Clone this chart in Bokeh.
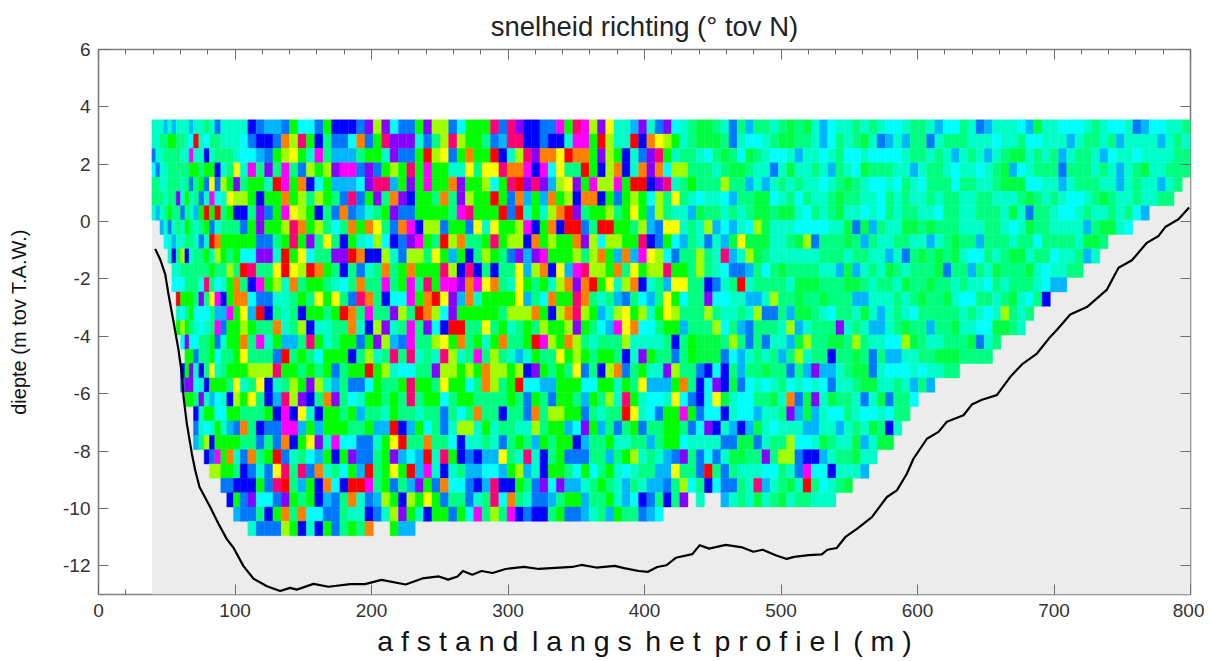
import colorsys
import numpy as np
from bokeh.embed import file_html
from bokeh.resources import INLINE
from bokeh.plotting import figure
from bokeh.models import ColumnDataSource, LinearColorMapper, LinearAxis, FixedTicker, Range1d

TITLE = "snelheid richting (° tov N)"
XLABEL = "a f s t a n d \u2009l a n g s \u2009h e t \u2009p r o f i e l \u2009( m )"
YLABEL = "diepte (m tov T.A.W.)"
x_ticks = [0, 100, 200, 300, 400, 500, 600, 700, 800]
y_ticks = [6, 4, 2, 0, -2, -4, -6, -8, -10, -12]
top_minor = [20, 40, 60, 80, 120, 140, 160, 180, 220, 240, 260, 280, 320, 340, 360, 380, 420, 440, 460, 480, 520, 540, 560, 580, 620, 640, 660, 680, 720, 740, 760, 780]
bottom_minor = [20]

# direction class -> degrees relative to north
hue = dict(r=0, o=30, y=60, l=82, g=120, h=136, s=150, t=167, c=180, a=197, d=212, b=240, v=272, m=300, k=332)

# narrow column edges near the left bank (m); beyond that roughly 6 m spacing
left_edges = [39.1, 42, 45, 47.9, 50.8, 53.7, 56.9, 60.1, 63.3, 66.4, 69.6, 73.5, 77.4, 81.3, 85.2, 89.6, 94, 98.9, 103.8]
panel_edges = [109.4, 293.3, 546.3, 800]
panel_cols = [30, 42, 42]
row_top = 3.55
row_step = 0.5
bed_x = [41.5, 45.2, 48.9, 51.3, 55, 58.6, 61, 62.3, 64.7, 68.4, 70.8, 74, 81.8, 87.9, 94, 98.9, 106.2, 113.6, 123.4, 133.1, 140.4, 145.3, 157.5, 168.5, 184.4, 195.2, 207.4, 225, 237.2, 249.4, 256.2, 263, 267, 273.8, 280.6, 288.7, 298.2, 311.8, 322.6, 347, 353.8, 364.6, 378.2, 385, 395.8, 402.6, 409.3, 416.1, 422.9, 435.1, 440.5, 447.3, 459.5, 471.7, 479.8, 486.6, 496.1, 504.2, 509.6, 520.4, 529.9, 534, 540.8, 547.5, 555.6, 566.6, 577.6, 584.9, 592.2, 597.1, 606.9, 615.4, 621.5, 633.7, 639.8, 647.2, 658.1, 668, 676.5, 687.5, 697.2, 702.2, 711.9, 724.1, 738.8, 747.3, 757.1, 768, 776.6, 781.5, 791.2, 799]
bed_y = [-0.95, -1.32, -1.84, -2.54, -3.5, -4.47, -5.3, -6.11, -7.04, -8.09, -8.66, -9.25, -9.95, -10.53, -11.07, -11.37, -12.01, -12.45, -12.71, -12.88, -12.77, -12.83, -12.63, -12.73, -12.64, -12.64, -12.49, -12.65, -12.44, -12.37, -12.48, -12.37, -12.18, -12.31, -12.18, -12.25, -12.11, -12.04, -12.11, -12.04, -11.97, -12.06, -12.0, -12.08, -12.18, -12.21, -12.04, -11.98, -11.72, -11.59, -11.28, -11.4, -11.27, -11.36, -11.51, -11.44, -11.63, -11.76, -11.69, -11.63, -11.6, -11.44, -11.38, -10.98, -10.71, -10.3, -9.6, -9.37, -8.79, -8.26, -7.57, -7.33, -6.98, -6.75, -6.38, -6.21, -6.05, -5.41, -4.98, -4.6, -4.02, -3.77, -3.24, -2.98, -2.37, -1.61, -1.35, -0.74, -0.5, -0.19, 0.08, 0.49]

# top row first; left bank | first panel | second panel | third panel; "." = no measurement
rows = [
"tttatatttattstdtttt | b d a a d g c c d g b b b d v l v c d d g v l l d c g g g k | d k v b b d d m g k m l v y t t a v t d v c t s g g s t d s a s s t s g s g t a c t | t s t s t c c t s s t a c c s t d a t t t c a g t t c c c t s t c c t d a c c t t s",
"ttssggsstcrtcsstttc | d b b d o l k g b s d d c o d g k v v v t d s l k l g g s d | a k k b b d b b t m m g r l t t r b o y l g t s g g g s d t c c t s g g s s t a c s | t s g t d a t a s s d t s s s t t t c t t s c c t t t a t s s t s a t t t t a t s t",
"dttssssttmttbtssstc | c a d g l y g t m s a a a s g g t v d d g r l y d g o g g r | b t l k v o o y r o o g v l g b t d v k g t s s t c s g s c g s t c c t a t t c t s | c c t c c c c t s s t s t a t s t a t s g g t s t s a t s s t a c t t c t t t t s s",
"cdttsssssggsggbtsyt | m s v s m s d l g l v m m d v d g l g k g m g g t t y s y y | k o o m b m c y s s r g b l o b t o v o c l l s s s t s g g s t t d t g t t s t a s | t c g s s s t t a t s s t c t t c t s g a c t s s s d s s s t s t a t s g t t s s s",
"ssttssstsdsgdydlgvs | g g t r m g o b c g a a a c v k k a g v g m g g o v g g l c | g k r v k v a l y v g m l l m g r r b v k t s g s s s l s s a t a t s t s t t c t s | g s t c c t c s t c s s s c s s t t s g g g c c t t a t s s s t t a t s t t a t s",
"ssstssvtgtsdtmctyll | g b g g o g l s l g s d k d g v s o v b g g s o s v l g g r | g d o a g a o g l b o o b g d g l g c l s y s t c t t c a s s g g c t s c s t t s g | s s t t c s t s t t s t s s t t s s t t t s g s t s t c c t s g s t t s t t s s",
"tatsgssdstagrgrsgbb | s v d g m y l g b s d o d a t s g v d d g g g g s m k g g g | r d r t g t l o r v s g g l s g y g a l s t t a g s s t s t s g g s g g t c s t s g | t t c t c s t s s t t c s s t t s s s t g t d s s t c c t s t t s t s c a",
"atdtstgstsgdtsssd | g v g g l k o g l s c s o g o y s d o m b l l d g g d y t y | g g l m b g o b r r d s r r g g s l a d y y t s t l a c a t c l g t t t c c c c t t | g d g a s t t g g s g s s s t t t s s t c t g s s t t t t a s g g t c",
"ctattsstdtrogggg | g d d s g k g v s y s b g t c l c b d v m g s r l o s s g k | g l l b o g l g g o v l c l l g g k b d g c a s t d t a g y g g g t t s g l d s s s | g s a s t t s s t t a t s g s s a s s s t s s c s s s s t g g s",
"tbslbtssgtlgsgc | c v v t r g y c s s v v r o b b l t d l l s y g a g b s l g | s d v a v m g g g l s l o g a o a m y l c d s s l s t k a t l g s t t t t t t s s s | t s s t t a t d s g s g s g t c c s t s g g t s s c t t s a t",
"ttssssssgsslsr | k s s y r y l r o g s b s d t s o s g o g g g k l b k b s b | s s y a l o b y a m k l l g o s y g l l k g g s l s t c d d a s c s g s s s s t t a | g a t s t g s t s s s g d s s a s t g s s s g t c t t s s",
"cccssscksctgos | b m g l t o s g g s t c s o s s m s g m s k g m m v o m y o | s t y g s g t l o v o r g y t l o b t s a y y s s b d t s r t s s s s t g g g s s s | g g s t s s t g s s g s s t s t t c s t s s s t c a a",
"rgggsvsymbgoo | c d d t t s g s y g y s d k o s b c c m g o r y v a o t g g | g g y a s c o g g k o s t s a d s c a s y g c s s v c c t t a a t l s s g s s g s s | s a a t t t s t s g s s g t c c s s t s g t c s b",
"tcsgcccsaamgy | a r b s t s b g g s g r o s m s s v l s r o l c v g g g g g | s l l l o g b l o k l g a t l y g l t g y l s s s l s t t s t l d d s a g g s t c s | s t g t a t s t c s s s s s t s t c t l s t s",
"glgstctsmdggl | g s s o t s l b t t s s o t b l v t s m s v c b r r s s y s | g t s g s l g g l v g s c a m y o c c s g g a s s s l c s a d s s s t l a t s s s v | t s t a a t s g s s a s s g t t c c g g s t",
"cvccssgdtggo | s m t g a a s k g t s g g d g v l a d m s s l y g o s g t g | o s s g r m l g o l s t s s s l t t t t s b s g g g g s l s d s d t t a g l s s g g | s l s t t c c l g s t t s s s g d t s",
"ggdssgcssgy | s s s d r s g s c g g g b s l t s k s k t s t k l t s m s l | s t a t g s s y g l g s g g s b t v g s s d s g g g g d c a t s t s a s l t s s b s | s g s d s a a t t s s g g g s s s s",
"bgvtbsytsggg | l l l k g g s g s g d s g g r g l t c c s s v l l g l g o l | l g l b v g s g s y d s b l o d s g t t v l s s d b c b s a s s g s s d s a v a a t | s g g d t c c c t c t t s s",
"dvvctbgggsyt | s y b t s l g v l t a s d d c g s s g k g g s y g g c s o l | s g r c c a a g g g c c g g t g s y a a a g o s b c v b g d c t c t s c t c t c d t | t s g g t t s t a s a",
"ggsvtactblg | y s b a k l v b s o v s c t g g s g s k s g g c s g g s s s | s g s d g s d g g s a g s l t k g t c c t y c d b c y g t c c s s g t o d g v t g s | s t d t g d s s c",
"btggccggs | s s g b m b y t b g g s g a s s t g s s t s s d s c s o s s | b s s d o s l l g g d s t s s r y t c d g g m g d c c b t c c a t t s v a g a t c c | s t c c t c s s",
"dtctgtado | s b d d m m a g a g g g s s g a a r b a g c s d t l l t g t | s s t t l s g g a c v g a s d s g d s s g g s d c v b t a b a g t c t t t a a t t a | t s t g s b t",
"aslbggggs | s d s d o b g y v t m c c d d t g y r s s o s s c b t t s t | d s g s a g s g g b a s s g t t s s a s g g c t t t t d d g g d t s s l c c t g s t | t g a t g g",
"bdmgotd | o s g r d t s c a g b g v d d s g v a c a r t k g b d b a a | y s t k t b s g d d d s s a s g l t s t a d v s d c d t g g s s v s l l d b b a t s | s g t t",
"llggsb | d t d y k s k d o t s c g a r s g y g r a m t b t s a a c c | a g l a t b g g s c g c s g t c t s s a a y s s d r s d s t t t c c s t d m c c b t | t t a",
"ddbb | b g d k r s a g b o c b r r m s g d s a v g d o c c d b a k | b b g s d v c v a a t s g s t a s t a a d s l c s b c d d s t k a t s g t r s c t s | g",
"bgd | v c c d v g s g b a d s o t d a l g b l g y g d s s d t s k | c o s t d d a s g g a s s g t a c b d s b s v . t . . a t s t g t s g t s s t t t |",
"ad | d s b g o s o c c d d s t t b d t l v g t b g g d g c m s l | s m b d b b s g d d a t s a g s s d a c | ",
". | t d d d l g b t b g d s g s o . . g a a | |",
]

x_edges = list(left_edges)
for a, b, n in zip(panel_edges[:-1], panel_edges[1:], panel_cols):
    x_edges += list(np.linspace(a, b, n + 1))[:-1]
x_edges.append(panel_edges[-1])
n_left = len(left_edges)
pad = [n_left, panel_cols[0], panel_cols[1], panel_cols[2]]

L, R, T, B, V = [], [], [], [], []
for r, row in enumerate(rows):
    segs = ["".join(s.split()) for s in row.split("|")]
    segs += [""] * (4 - len(segs))
    # the calmer eastern part is a bluer green than the pure green of the west
    segs[2] = segs[2][:24] + segs[2][24:].replace("g", "h")
    segs[3] = segs[3].replace("g", "h")
    codes = segs[0].rjust(pad[0], ".") + segs[1].ljust(pad[1], ".") + segs[2].ljust(pad[2], ".") + segs[3].ljust(pad[3], ".")
    for c, ch in enumerate(codes[:len(x_edges) - 1]):
        if ch in hue:
            L.append(x_edges[c]); R.append(x_edges[c + 1])
            T.append(row_top - row_step * r); B.append(row_top - row_step * (r + 1))
            V.append(hue[ch])

palette = []
for h in range(360):
    rr, gg, bb = colorsys.hsv_to_rgb(h / 360, 1, 1)
    palette.append("#%02x%02x%02x" % (round(rr * 255), round(gg * 255), round(bb * 255)))
mapper = LinearColorMapper(palette=palette, low=0, high=360)

p = figure(width=1204, height=659, output_backend="svg", toolbar_location=None,
           x_range=Range1d(0, 800), y_range=Range1d(-13, 6),
           min_border_left=98, min_border_right=14, min_border_top=49, min_border_bottom=65,
           x_axis_type=None, y_axis_type=None, background_fill_color="white", border_fill_color="white")
p.grid.visible = False
p.title.text = TITLE
p.title.text_font = "Liberation Sans"
p.title.text_font_size = "27.5px"
p.title.text_font_style = "normal"
p.title.text_color = "#222222"
p.title.align = "center"
p.title.offset = 0
p.title.standoff = 16
p.outline_line_color = "#7f7f7f"
p.outline_line_width = 1.6

p.quad(left=[min(left_edges)], right=[800], top=[row_top - row_step * 4], bottom=[-13], fill_color="#ececec", line_color=None)
src = ColumnDataSource(dict(left=L, right=R, top=T, bottom=B, v=V))
p.quad(left="left", right="right", top="top", bottom="bottom", source=src,
       fill_color={"field": "v", "transform": mapper}, line_color={"field": "v", "transform": mapper}, line_width=0.4)
p.line(bed_x, bed_y, line_color="#000000", line_width=2.2, line_join="round")

def style(ax, labels):
    ax.major_tick_in = 10
    ax.major_tick_out = 0
    ax.minor_tick_in = 5
    ax.minor_tick_out = 0
    ax.major_tick_line_color = "#6e6e6e"
    ax.minor_tick_line_color = "#6e6e6e"
    ax.axis_line_color = None
    if labels:
        ax.major_label_text_font = "Liberation Sans"
        ax.major_label_text_font_size = "19px"
        ax.major_label_text_color = "#333333"
    else:
        ax.major_label_text_font_size = "0px"
        ax.major_label_text_color = None

xb = LinearAxis(ticker=FixedTicker(ticks=x_ticks, minor_ticks=bottom_minor))
style(xb, True)
xb.major_label_standoff = 9
xb.axis_label = XLABEL
xb.axis_label_text_font = "Liberation Sans"
xb.axis_label_text_font_size = "28.5px"
xb.axis_label_text_font_style = "normal"
xb.axis_label_text_color = "#111111"
xb.axis_label_standoff = 5
p.add_layout(xb, "below")

xt = LinearAxis(ticker=FixedTicker(ticks=x_ticks, minor_ticks=top_minor))
style(xt, False)
p.add_layout(xt, "above")

yl = LinearAxis(ticker=FixedTicker(ticks=y_ticks))
style(yl, True)
yl.major_label_standoff = 8
yl.major_label_overrides = {t: str(t) for t in y_ticks}
yl.axis_label = YLABEL
yl.axis_label_text_font = "Liberation Sans"
yl.axis_label_text_font_size = "20px"
yl.axis_label_text_font_style = "normal"
yl.axis_label_text_color = "#111111"
yl.axis_label_standoff = 30
p.add_layout(yl, "left")

yr = LinearAxis(ticker=FixedTicker(ticks=y_ticks))
style(yr, False)
p.add_layout(yr, "right")

open("out.html", "w").write(file_html(p, INLINE))
